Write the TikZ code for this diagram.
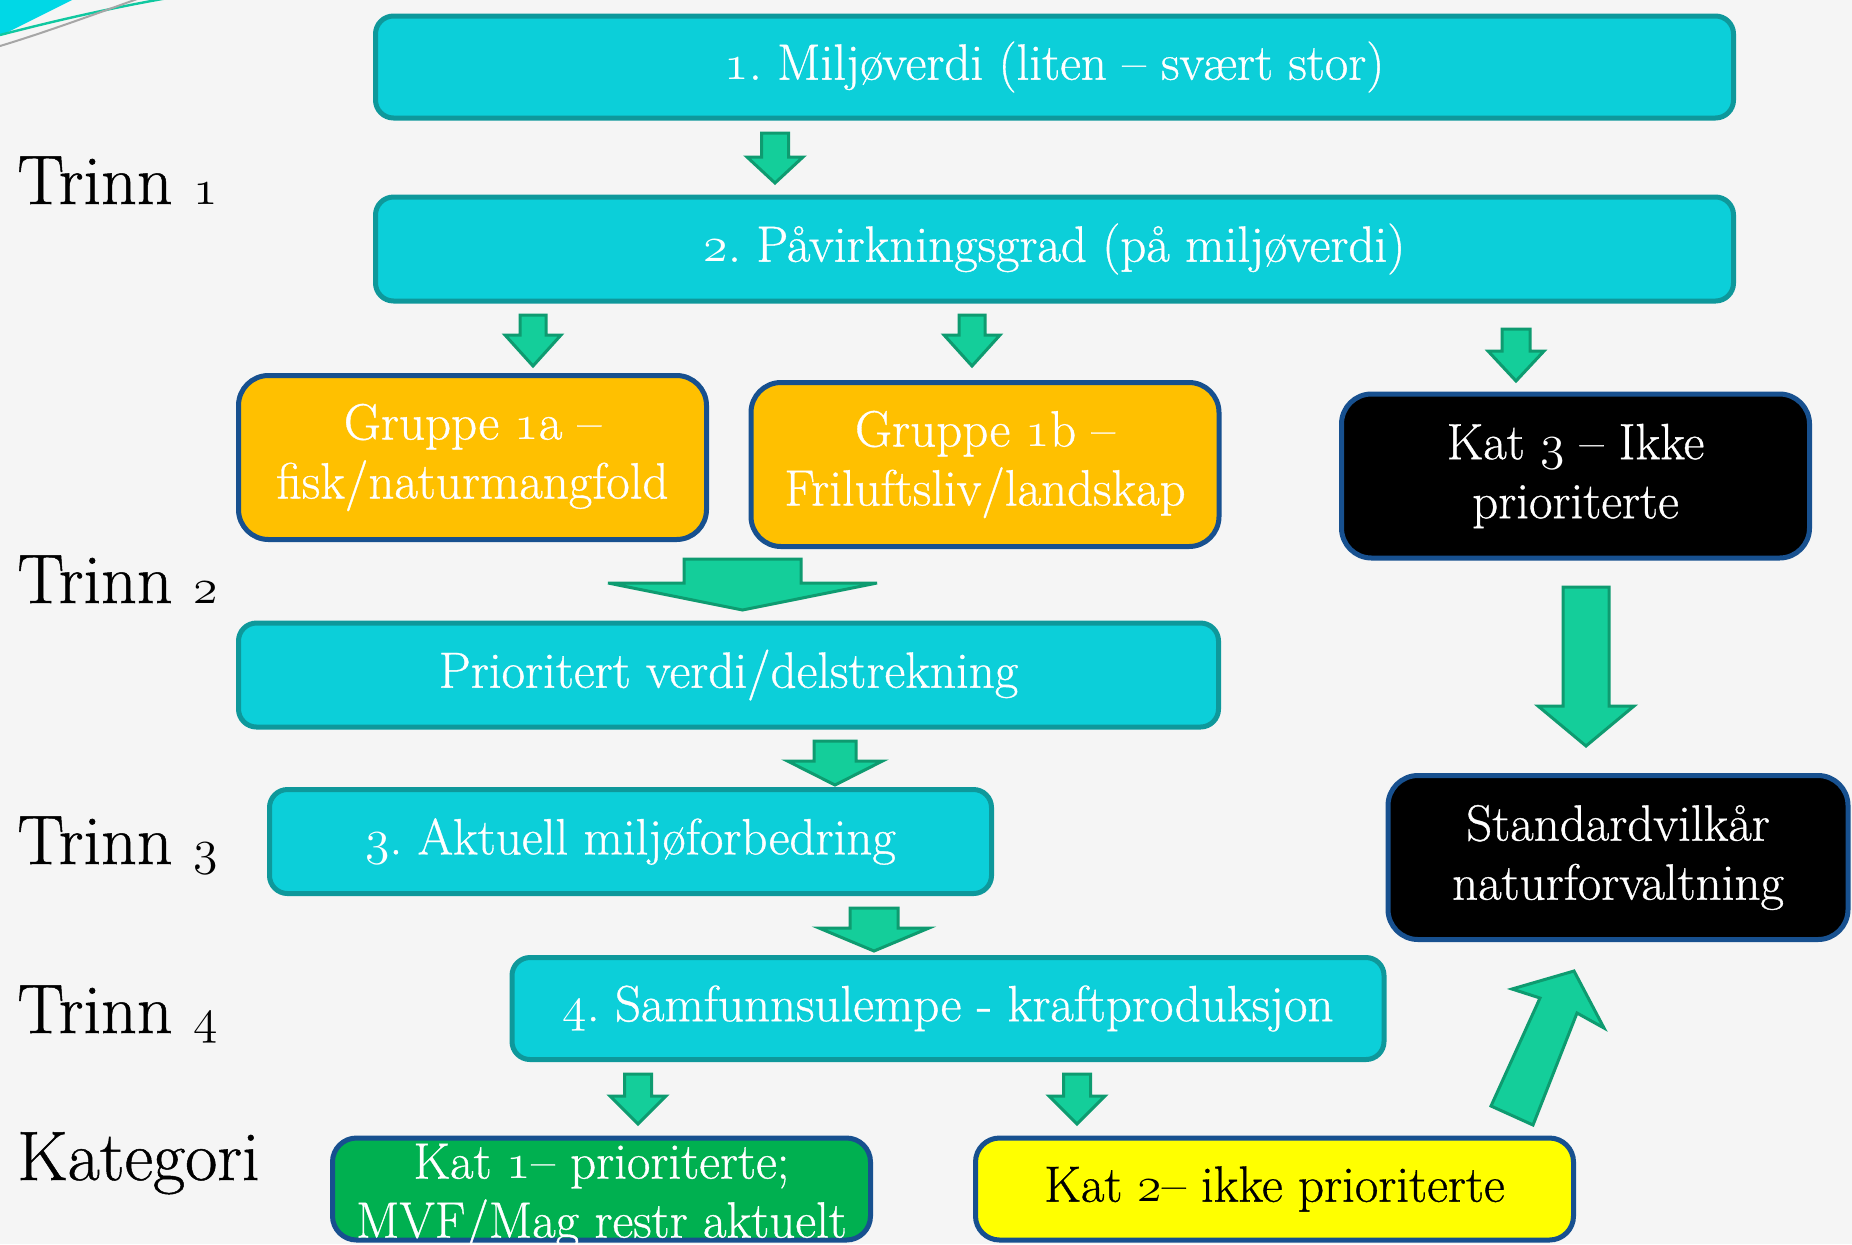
\documentclass[tikz,border=0pt]{standalone}
\usepackage{fontspec}
\setmainfont{Latin Modern Roman}[RawFeature={embolden=0.7}]
\usetikzlibrary{calc}
\definecolor{bgc}{HTML}{F5F5F5}
\definecolor{cyanfill}{HTML}{0CCFD9}
\definecolor{tealline}{HTML}{0E989B}
\definecolor{arrowfill}{HTML}{14CE9A}
\definecolor{arrowline}{HTML}{0E9B70}
\definecolor{orangefill}{HTML}{FFC000}
\definecolor{blueline}{HTML}{17508F}
\definecolor{kgreen}{HTML}{00B050}
\definecolor{kyellow}{HTML}{FFFF00}
\definecolor{swoosh}{HTML}{00D8E6}
\definecolor{swline}{HTML}{10C8A0}
\newcommand\osn[1]{$\mathnormal{#1}$}
\newcommand\boxfont{\fontsize{25.5pt}{29.5pt}\selectfont\frenchspacing}
\newcommand\trinnfont{\fontsize{35pt}{40pt}\selectfont}
\newcommand\dnarrow[6]{%
  \draw[blockarrow] ({#1-#3},#2) -- ({#1+#3},#2) -- ({#1+#3},#5) -- ({#1+#4},#5)
    -- (#1,#6) -- ({#1-#4},#5) -- ({#1-#3},#5) -- cycle;}
\tikzset{
  basebox/.style={line width=2.5pt, inner sep=0pt, align=center, font=\boxfont},
  cyanbox/.style={basebox, draw=tealline, fill=cyanfill, text=white, rounded corners=9pt},
  orangebox/.style={basebox, draw=blueline, fill=orangefill, text=white, rounded corners=15pt},
  blackbox/.style={basebox, draw=blueline, fill=black, text=white, rounded corners=15pt},
  greenbox/.style={basebox, draw=blueline, fill=kgreen, text=white, rounded corners=12pt},
  yellowbox/.style={basebox, draw=blueline, fill=kyellow, text=black, rounded corners=12pt},
  boxtext/.style={inner sep=0pt, align=center, font=\boxfont, text=white},
  trinn/.style={anchor=base west, inner sep=0pt, font=\trinnfont, text=black},
  blockarrow/.style={draw=arrowline, fill=arrowfill, line width=1.5pt, line join=miter},
}
\begin{document}
\begin{tikzpicture}[x=0.5pt, y=-0.5pt]
\clip (0,0) rectangle (1852,1244);
\fill[bgc] (0,0) rectangle (1852,1244);
% top-left decoration
\fill[swoosh] (0,0) -- (72,0) -- (0,36) -- cycle;
\draw[swline, line width=1.2pt] (0,35) .. controls (50,22) and (110,8) .. (168,-2);
\draw[gray!70, line width=1pt] (0,46) .. controls (40,34) and (90,16) .. (140,-2);

% boxes
\node[cyanbox, minimum width=679pt, minimum height=51pt] (b1) at (1054.5,67) {\osn{1}. Miljøverdi (liten – svært stor)};
\node[cyanbox, minimum width=679pt, minimum height=52pt] (b2) at (1054.5,249) {\osn{2}. Påvirkningsgrad (på miljøverdi)};
\node[orangebox, minimum width=234pt, minimum height=82pt] (g1a) at (472.5,457.5) {Gruppe \osn{1}a –\\fisk/naturmangfold};
\node[orangebox, minimum width=234pt, minimum height=82pt] (g1b) at (985,464.5) {Gruppe \osn{1}b –\\Friluftsliv/landskap};
\node[blackbox, minimum width=234pt, minimum height=82pt] (k3) at (1575.5,476) {Kat \osn{3} – Ikke\\prioriterte};
\node[cyanbox, minimum width=490pt, minimum height=52pt] (prio) at (728.5,675) {Prioritert verdi/delstrekning};
\node[cyanbox, minimum width=361pt, minimum height=52pt] (b3) at (630.5,841.5) {\osn{3}. Aktuell miljøforbedring};
\node[cyanbox, minimum width=436pt, minimum height=51pt] (b4) at (948,1008.5) {\osn{4}. Samfunnsulempe - kraftproduksjon};
\node[blackbox, minimum width=230pt, minimum height=82pt] (std) at (1618,857.5) {Standardvilkår\\naturforvaltning};
\node[greenbox, minimum width=269pt, minimum height=51pt] (k1) at (601.5,1189) {};
\node[boxtext] (k1t) at ($(k1.center)+(0,8)$) {Kat \osn{1}– prioriterte;\\MVF/Mag restr aktuelt};
\node[yellowbox, minimum width=299pt, minimum height=51pt] (k2) at (1274.5,1189) {Kat \osn{2}– ikke prioriterte};

% step labels
\node[trinn] (t1) at (17,204) {Trinn \osn{1}};
\node[trinn] (t2) at (17,603) {Trinn \osn{2}};
\node[trinn] (t3) at (17,864) {Trinn \osn{3}};
\node[trinn] (t4) at (17,1033) {Trinn \osn{4}};
\node[trinn] (kat) at (17,1180) {Kategori};

% block arrows
\dnarrow{775}{133}{13.5}{28}{157}{183}
\dnarrow{533}{315}{13}{28}{335}{366}
\dnarrow{972}{315}{13}{28}{335}{366}
\dnarrow{1516}{329}{14}{28}{351}{381}
\dnarrow{742.5}{559}{58.5}{134.5}{583}{610}
\dnarrow{835}{741}{21}{47.5}{761}{785}
\dnarrow{874}{908}{24}{55}{928}{951}
\dnarrow{638}{1074}{13.5}{28}{1096}{1124}
\dnarrow{1077}{1074}{13.5}{28}{1096}{1124}
\dnarrow{1586}{587}{23}{48}{706}{746}
\draw[blockarrow] (1491,1106) -- (1540,998) -- (1512,989) -- (1574,971)
  -- (1604,1028) -- (1577,1013) -- (1533,1125) -- cycle;
\end{tikzpicture}
\end{document}
